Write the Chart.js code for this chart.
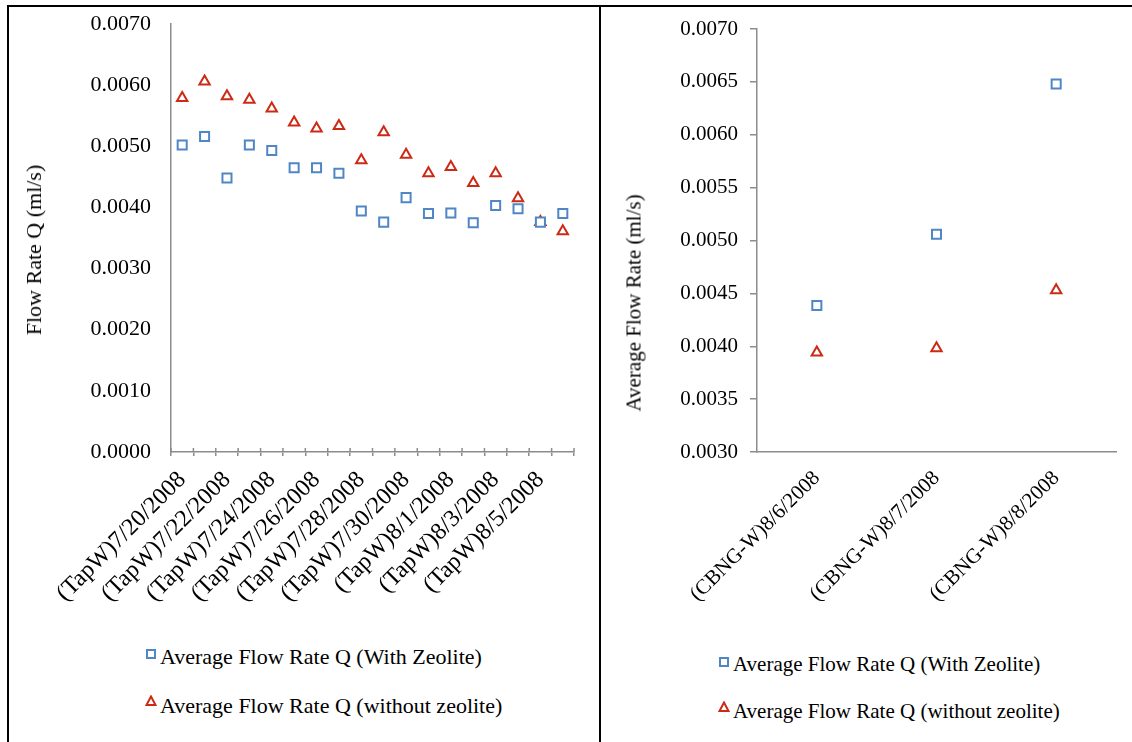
<!DOCTYPE html>
<html>
<head>
<meta charset="utf-8">
<script src="https://cdn.jsdelivr.net/npm/chart.js@4.4.1/dist/chart.umd.min.js"></script>
<style>
  body { margin: 0; background: #fff; }
  #page { position: relative; width: 1132px; height: 742px; overflow: hidden; background: #fff; }
  canvas { position: absolute; top: 0; }
  .line { position: absolute; background: #000; }
  .ytitle { position: absolute; white-space: nowrap; transform: translate(-50%, -50%) rotate(-90deg); color: #000; }
  .leg { position: absolute; white-space: nowrap; color: #000; line-height: 1; }
  .leg svg { position: absolute; }
  .left-font { font-family: "Liberation Serif", serif; font-size: 22px; }
  .right-font { font-family: "Liberation Serif", serif; font-size: 21px; }
</style>
</head>
<body>
<div id="page">
  <canvas id="chartLeft" width="600" height="630" style="left:0"></canvas>
  <canvas id="chartRight" width="532" height="630" style="left:600px"></canvas>

  <!-- frame lines -->
  <div class="line" style="left:7px;top:5px;width:2px;height:737px"></div>
  <div class="line" style="left:7px;top:5px;width:1125px;height:2px"></div>
  <div class="line" style="left:599px;top:5px;width:2px;height:737px"></div>

  <div class="ytitle left-font" style="left:34px;top:250px">Flow Rate Q (ml/s)</div>
  <div class="ytitle right-font" style="left:634px;top:303px">Average Flow Rate (ml/s)</div>

  <div class="leg left-font" style="left:160px;top:646px">
    <svg width="12" height="12" style="left:-15px;top:2px"><rect x="2" y="2" width="8" height="8" fill="#fff" stroke="#4f86c6" stroke-width="2"/></svg>
    Average Flow Rate Q (With Zeolite)</div>
  <div class="leg left-font" style="left:160px;top:695px">
    <svg width="12" height="12" style="left:-15px;top:0px"><path d="M6 1.5 L10.5 10 L1.5 10 Z" fill="#fff" stroke="#cc2a14" stroke-width="2"/></svg>
    Average Flow Rate Q (without zeolite)</div>

  <div class="leg right-font" style="left:733px;top:654px">
    <svg width="12" height="12" style="left:-15px;top:2px"><rect x="2" y="2" width="8" height="8" fill="#fff" stroke="#4f86c6" stroke-width="2"/></svg>
    Average Flow Rate Q (With Zeolite)</div>
  <div class="leg right-font" style="left:733px;top:701px">
    <svg width="12" height="12" style="left:-15px;top:0px"><path d="M6 1.5 L10.5 10 L1.5 10 Z" fill="#fff" stroke="#cc2a14" stroke-width="2"/></svg>
    Average Flow Rate Q (without zeolite)</div>
</div>

<script>
// left chart - tap water
const tapDates = ["(TapW)7/20/2008", "(TapW)7/21/2008", "(TapW)7/22/2008", "(TapW)7/23/2008",
  "(TapW)7/24/2008", "(TapW)7/25/2008", "(TapW)7/26/2008", "(TapW)7/27/2008", "(TapW)7/28/2008",
  "(TapW)7/29/2008", "(TapW)7/30/2008", "(TapW)7/31/2008", "(TapW)8/1/2008", "(TapW)8/2/2008",
  "(TapW)8/3/2008", "(TapW)8/4/2008", "(TapW)8/5/2008", "(TapW)8/6/2008"];
const tapWithZeolite = [0.00502, 0.00516, 0.00448, 0.00502, 0.00493, 0.00465, 0.00465, 0.00456, 0.00394,
  0.00376, 0.00416, 0.00390, 0.00391, 0.00375, 0.00403, 0.00398, 0.00376, 0.00390];
const tapWithoutZeolite = [0.00579, 0.00606, 0.00582, 0.00576, 0.00562, 0.00539, 0.00529, 0.00533, 0.00477,
  0.00523, 0.00486, 0.00456, 0.00466, 0.00440, 0.00456, 0.00415, 0.00376, 0.00361];
const tapTicks = [0, 0.001, 0.002, 0.003, 0.004, 0.005, 0.006, 0.007];

// right chart - CBNG water
const cbngDates = ["(CBNG-W)8/6/2008", "(CBNG-W)8/7/2008", "(CBNG-W)8/8/2008"];
const cbngWithZeolite = [0.004385, 0.00506, 0.00648];
const cbngWithoutZeolite = [0.00394, 0.00398, 0.00453];
const cbngTicks = [0.003, 0.0035, 0.004, 0.0045, 0.005, 0.0055, 0.006, 0.0065, 0.007];

const blue = "#4f86c6";
const red = "#cc2a14";
const axisGrey = "#8c8c8c";

Chart.defaults.animation = false;
Chart.defaults.color = "#000";

function series(label, values, style, colour, radius) {
  return {
    label: label,
    data: values,
    showLine: false,
    pointStyle: style,
    pointRadius: radius,
    pointHoverRadius: radius,
    pointBorderWidth: 2,
    pointBorderColor: colour,
    pointBackgroundColor: "#fff",
    borderColor: colour,
    backgroundColor: "#fff"
  };
}

// small tick marks above the x axis (Excel "cross" ticks)
const crossTicks = {
  id: "crossTicks",
  afterDraw: function(chart) {
    const sx = chart.scales.x;
    const ctx = chart.ctx;
    ctx.save();
    ctx.strokeStyle = axisGrey;
    ctx.lineWidth = 1.5;
    for (let i = 0; i <= sx.ticks.length; i++) {
      const x = sx.getPixelForValue(i - 0.5);
      ctx.beginPath();
      ctx.moveTo(x, sx.top - 4);
      ctx.lineTo(x, sx.top);
      ctx.stroke();
    }
    ctx.restore();
  }
};

new Chart(document.getElementById("chartLeft"), {
  type: "line",
  data: {
    labels: tapDates,
    datasets: [
      series("Average Flow Rate Q (With Zeolite)", tapWithZeolite, "rect", blue, 6.4),
      series("Average Flow Rate Q (without zeolite)", tapWithoutZeolite, "triangle", red, 6)
    ]
  },
  options: {
    responsive: false,
    devicePixelRatio: 1,
    layout: { padding: { left: 0, top: 24, right: 26, bottom: 0 } },
    plugins: { legend: { display: false }, tooltip: { enabled: false } },
    scales: {
      x: {
        offset: true,
        grid: { display: true, offset: true, drawOnChartArea: false, tickLength: 4, color: axisGrey, lineWidth: 1.5 },
        border: { color: axisGrey, width: 1.5 },
        ticks: {
          autoSkip: false,
          minRotation: 45,
          maxRotation: 45,
          padding: 10,
          font: { family: "Liberation Serif", size: 24 },
          callback: function(v, i) { return i % 2 === 0 ? this.getLabelForValue(v) : ""; }
        },
        afterFit: function(s) { s.height = 178; }
      },
      y: {
        min: 0,
        max: 0.007,
        afterBuildTicks: function(s) { s.ticks = tapTicks.map(function(v) { return { value: v }; }); },
        grid: { display: false, drawTicks: true, tickLength: 14 },
        border: { color: axisGrey, width: 1.5 },
        ticks: {
          padding: 6,
          font: { family: "Liberation Serif", size: 22 },
          callback: function(v) { return v.toFixed(4); }
        },
        afterFit: function(s) { s.width = 171; }
      }
    }
  },
  plugins: [crossTicks]
});

new Chart(document.getElementById("chartRight"), {
  type: "line",
  data: {
    labels: cbngDates,
    datasets: [
      series("Average Flow Rate Q (With Zeolite)", cbngWithZeolite, "rect", blue, 6.4),
      series("Average Flow Rate Q (without zeolite)", cbngWithoutZeolite, "triangle", red, 6)
    ]
  },
  options: {
    responsive: false,
    devicePixelRatio: 1,
    layout: { padding: { left: 0, top: 29, right: 16, bottom: 0 } },
    plugins: { legend: { display: false }, tooltip: { enabled: false } },
    scales: {
      x: {
        offset: true,
        grid: { display: false },
        border: { color: axisGrey, width: 1.5 },
        ticks: {
          autoSkip: false,
          minRotation: 45,
          maxRotation: 45,
          padding: 6,
          font: { family: "Liberation Serif", size: 21 }
        },
        afterFit: function(s) { s.height = 178; }
      },
      y: {
        min: 0.003,
        max: 0.007,
        afterBuildTicks: function(s) { s.ticks = cbngTicks.map(function(v) { return { value: v }; }); },
        grid: { display: true, drawOnChartArea: false, tickLength: 7, color: axisGrey, lineWidth: 1.5 },
        border: { color: axisGrey, width: 1.5 },
        ticks: {
          padding: 12,
          font: { family: "Liberation Serif", size: 21 },
          callback: function(v) { return v.toFixed(4); }
        },
        afterFit: function(s) { s.width = 157; }
      }
    }
  }
});
</script>
</body>
</html>
